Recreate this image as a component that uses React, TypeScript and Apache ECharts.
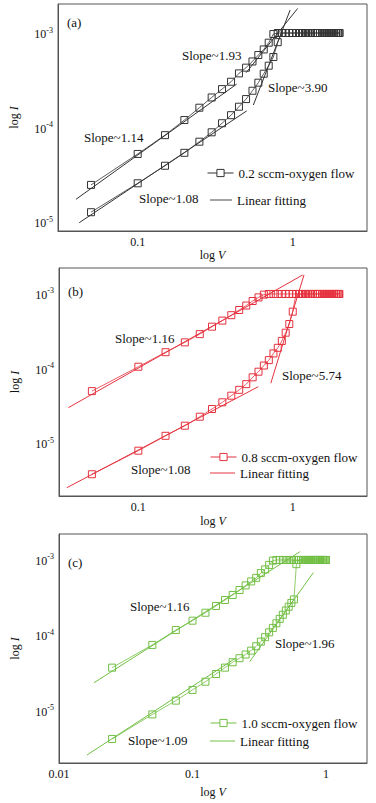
import React, { useEffect, useRef } from "react";
import * as echarts from "echarts";

// ---------- Panel (a): 0.2 sccm ----------
const aLowV = [0.05, 0.1, 0.15, 0.2, 0.25, 0.3, 0.35, 0.4, 0.45, 0.5, 0.55, 0.6, 0.65, 0.7, 0.75, 0.8];
const aLowI = [1.27e-5, 2.57e-5, 3.94e-5, 5.4e-5, 7.08e-5, 8.9e-5, 1.11e-4, 1.35e-4, 1.66e-4, 2.0e-4, 2.45e-4, 2.98e-4, 3.71e-4, 4.51e-4, 5.57e-4, 8.0e-4];
const aPlatV = [0.8, 0.85, 0.9, 0.95, 1.0, 1.05, 1.1, 1.15, 1.2, 1.25, 1.3, 1.35, 1.4, 1.45, 1.5, 1.55, 1.6, 1.65, 1.7, 1.75, 1.8, 1.85, 1.9, 1.95, 2.0];
const aPlatI = [1e-3, 1e-3, 1e-3, 1e-3, 1e-3, 1e-3, 1e-3, 1e-3, 1e-3, 1e-3, 1e-3, 1e-3, 1e-3, 1e-3, 1e-3, 1e-3, 1e-3, 1e-3, 1e-3, 1e-3, 1e-3, 1e-3, 1e-3, 1e-3, 1e-3];
const aUpV = [0.75, 0.7, 0.65, 0.6, 0.55, 0.5, 0.45, 0.4, 0.35, 0.3, 0.25, 0.2, 0.15, 0.1, 0.05];
const aUpI = [9.75e-4, 7.9e-4, 6.7e-4, 5.85e-4, 5.0e-4, 4.3e-4, 3.74e-4, 3.05e-4, 2.55e-4, 2.08e-4, 1.62e-4, 1.2e-4, 8.3e-5, 5.25e-5, 2.47e-5];
const aFits = [
  [[0.04, 1.74e-5], [0.435, 2.88e-4]],
  [[0.5, 3.8e-4], [1.076, 1.82e-3]],
  [[0.042, 9.84e-6], [0.505, 1.5e-4]],
  [[0.557, 1.73e-4], [0.962, 1.75e-3]],
];

// ---------- Panel (b): 0.8 sccm ----------
const bLowV = [0.05, 0.1, 0.15, 0.2, 0.25, 0.3, 0.35, 0.4, 0.45, 0.5, 0.55, 0.6, 0.65, 0.7, 0.75, 0.8, 0.85, 0.9, 0.95, 1.0];
const bLowI = [3.85e-6, 7.96e-6, 1.26e-5, 1.72e-5, 2.27e-5, 2.88e-5, 3.54e-5, 4.34e-5, 5.2e-5, 6.2e-5, 7.65e-5, 9.1e-5, 1.1e-4, 1.3e-4, 1.6e-4, 1.9e-4, 2.35e-4, 3.03e-4, 3.96e-4, 5.8e-4];
const bPlatV = [0.7, 0.75, 0.8, 0.85, 0.9, 0.95, 1.0, 1.05, 1.1, 1.15, 1.2, 1.25, 1.3, 1.35, 1.4, 1.45, 1.5, 1.55, 1.6, 1.65, 1.7, 1.75, 1.8, 1.85, 1.9, 1.95, 2.0];
const bPlatI = [1e-3, 1e-3, 1e-3, 1e-3, 1e-3, 1e-3, 1e-3, 1e-3, 1e-3, 1e-3, 1e-3, 1e-3, 1e-3, 1e-3, 1e-3, 1e-3, 1e-3, 1e-3, 1e-3, 1e-3, 1e-3, 1e-3, 1e-3, 1e-3, 1e-3, 1e-3, 1e-3];
const bUpV = [0.65, 0.6, 0.55, 0.5, 0.45, 0.4, 0.35, 0.3, 0.25, 0.2, 0.15, 0.1, 0.05];
const bUpI = [9.8e-4, 9.0e-4, 8.05e-4, 7.0e-4, 6.1e-4, 5.2e-4, 4.4e-4, 3.65e-4, 2.9e-4, 2.25e-4, 1.66e-4, 1.06e-4, 5.0e-5];
const bFits = [
  [[0.0352, 3.0e-5], [1.161, 1.8e-3]],
  [[0.0344, 2.54e-6], [0.598, 5.73e-5]],
  [[0.721, 6.37e-5], [1.183, 1.8e-3]],
];

// ---------- Panel (c): 1.0 sccm ----------
const cLowV = [0.025, 0.05, 0.075, 0.1, 0.125, 0.15, 0.175, 0.2, 0.225, 0.25, 0.275, 0.3, 0.325, 0.35, 0.375, 0.4, 0.425, 0.45, 0.475, 0.5, 0.525, 0.55, 0.575, 0.6];
const cLowI = [4.26e-6, 9.0e-6, 1.37e-5, 1.9e-5, 2.44e-5, 3.09e-5, 3.75e-5, 4.42e-5, 5.0e-5, 5.6e-5, 6.3e-5, 7.2e-5, 8.3e-5, 9.5e-5, 1.1e-4, 1.26e-4, 1.45e-4, 1.66e-4, 1.88e-4, 2.14e-4, 2.4e-4, 2.7e-4, 3.0e-4, 8.8e-4];
const cPlatV = [0.425, 0.45, 0.475, 0.5, 0.525, 0.55, 0.575, 0.6, 0.625, 0.65, 0.675, 0.7, 0.725, 0.75, 0.775, 0.8, 0.825, 0.85, 0.875, 0.9, 0.925, 0.95, 0.975, 1.0];
const cPlatI = [1e-3, 1e-3, 1e-3, 1e-3, 1e-3, 1e-3, 1e-3, 1e-3, 1e-3, 1e-3, 1e-3, 1e-3, 1e-3, 1e-3, 1e-3, 1e-3, 1e-3, 1e-3, 1e-3, 1e-3, 1e-3, 1e-3, 1e-3, 1e-3];
const cUpV = [0.4, 0.375, 0.35, 0.325, 0.3, 0.275, 0.25, 0.225, 0.2, 0.175, 0.15, 0.125, 0.1, 0.075, 0.05, 0.025];
const cUpI = [9.8e-4, 8.6e-4, 7.5e-4, 6.7e-4, 5.8e-4, 5.2e-4, 4.6e-4, 4.0e-4, 3.44e-4, 2.95e-4, 2.46e-4, 2.0e-4, 1.57e-4, 1.18e-4, 7.5e-5, 3.75e-5];
const cFits = [
  [[0.0183, 2.37e-5], [0.64, 1.29e-3]],
  [[0.0162, 2.61e-6], [0.21, 4.99e-5]],
  [[0.268, 4.5e-5], [0.804, 6.8e-4]],
];

const names = ["0.2 sccm-oxygen flow", "0.8 sccm-oxygen flow", "1.0 sccm-oxygen flow"];
const fitNames = ["Linear fitting (a)", "Linear fitting (b)", "Linear fitting (c)"];
const colors = ["#333333", "#e5323e", "#72bf44"];

const FONT = '"Liberation Serif", "Times New Roman", serif';
const L = (v: number) => Math.log10(v);

function buildLoop(lowV: number[], lowI: number[], platV: number[], platI: number[], upV: number[], upI: number[]) {
  const pts: number[][] = [];
  lowV.forEach((v, k) => pts.push([L(v), L(lowI[k])]));
  const last = lowV[lowV.length - 1];
  platV.forEach((v, k) => { if (v > last) pts.push([L(v), L(platI[k])]); });
  for (let k = platV.length - 1; k >= 0; k--) pts.push([L(platV[k]), L(platI[k])]);
  upV.forEach((v, k) => pts.push([L(v), L(upI[k])]));
  return pts;
}

const xFmt = (v: number) => {
  const r = Math.round(v);
  if (Math.abs(v - r) > 1e-6) return "";
  if (r === 0) return "1";
  if (r === -1) return "0.1";
  if (r === -2) return "0.01";
  return String(Math.pow(10, r));
};
const yFmt = (v: number) => {
  const r = Math.round(v);
  if (Math.abs(v - r) > 1e-6) return "";
  return `{b|10}{s|${r}}`;
};

export default function App() {
  const ref = useRef<HTMLDivElement>(null);
  useEffect(() => {
    if (!ref.current) return;
    const chart = echarts.init(ref.current, null, { renderer: "svg" });

    const grids = [
      { left: 58, top: 4, width: 309, height: 227 },
      { left: 59, top: 268, width: 308, height: 228 },
      { left: 59, top: 534, width: 308, height: 229 },
    ];
    const xr = [[-1.514, 0.479], [-1.514, 0.481], [-2, 0.307]];
    const yr = [[-5.095, -2.693], [-5.706, -2.652], [-5.689, -2.656]];
    const xNameGap = [17, 19, 23];

    const loops = [
      buildLoop(aLowV, aLowI, aPlatV, aPlatI, aUpV, aUpI),
      buildLoop(bLowV, bLowI, bPlatV, bPlatI, bUpV, bUpI),
      buildLoop(cLowV, cLowI, cPlatV, cPlatI, cUpV, cUpI),
    ];
    const fits = [aFits, bFits, cFits];

    const series: any[] = [];
    loops.forEach((data, p) => {
      series.push({
        type: "line",
        name: names[p],
        xAxisIndex: p,
        yAxisIndex: p,
        data,
        symbol: "rect",
        symbolSize: 7,
        showAllSymbol: true,
        lineStyle: { color: colors[p], width: 0.8 },
        itemStyle: { color: "transparent", borderColor: colors[p], borderWidth: 1 },
        z: 3,
      });
      fits[p].forEach((seg) => {
        series.push({
          type: "line",
          name: fitNames[p],
          xAxisIndex: p,
          yAxisIndex: p,
          data: seg.map(([v, i]) => [L(v), L(i)]),
          symbol: "none",
          lineStyle: { color: colors[p], width: 1 },
          itemStyle: { color: colors[p] },
          z: 2,
        });
      });
    });

    const textStyle = { fontFamily: FONT, fontSize: 13, color: "#111", lineHeight: 14 };
    const legendPos = [
      [207, 173, 26, 210, 200, 22],
      [210, 457, 26, 210, 473, 25],
      [210, 723, 26, 210, 741, 25],
    ];
    const legends: any[] = [];
    legendPos.forEach((lp, p) => {
      legends.push({
        data: [names[p]], left: lp[0], top: lp[1] - 7, itemWidth: lp[2], itemHeight: 9,
        padding: 0, selectedMode: false, textStyle, itemGap: 0,
        lineStyle: { width: 1 },
        itemStyle: { borderWidth: 1, color: "#fff" },
      });
      legends.push({
        data: [{ name: fitNames[p], icon: "path://M0,0L100,0L100,4L0,4Z" }],
        left: lp[3], top: lp[4] - 7, itemWidth: lp[5], itemHeight: 9,
        padding: 0, selectedMode: false, textStyle, itemGap: 0,
        formatter: (n: string) => n.replace(/ \([abc]\)$/, ""),
      });
    });

    const labels = [
      [67, 22, "(a)"], [182, 55, "Slope~1.93"], [268, 87, "Slope~3.90"], [84, 137, "Slope~1.14"], [139, 198, "Slope~1.08"],
      [68, 291, "(b)"], [115, 338, "Slope~1.16"], [282, 375, "Slope~5.74"], [131, 469, "Slope~1.08"],
      [68, 562, "(c)"], [130, 606, "Slope~1.16"], [275, 643, "Slope~1.96"], [128, 740, "Slope~1.09"],
    ];

    const option: any = {
      animation: false,
      backgroundColor: "#fff",
      grid: grids.map((g) => ({ ...g, show: true, borderColor: "#555", borderWidth: 1, backgroundColor: "transparent" })),
      xAxis: grids.map((_, p) => ({
        gridIndex: p,
        type: "value",
        min: xr[p][0],
        max: xr[p][1],
        splitNumber: 2,
        axisLine: { show: true, onZero: false, lineStyle: { color: "#555", width: 1 } },
        axisTick: { show: false },
        splitLine: { show: false },
        axisLabel: { formatter: xFmt, margin: 5, fontFamily: FONT, fontSize: 12, color: "#111" },
        name: "{n|log }{i|V}",
        nameLocation: "middle",
        nameGap: xNameGap[p],
        nameTextStyle: {
          rich: {
            n: { fontFamily: FONT, fontSize: 12, color: "#111" },
            i: { fontFamily: FONT, fontSize: 12, fontStyle: "italic", color: "#111" },
          },
        },
      })),
      yAxis: grids.map((_, p) => ({
        gridIndex: p,
        type: "value",
        min: yr[p][0],
        max: yr[p][1],
        splitNumber: 3,
        axisLine: { show: true, onZero: false, lineStyle: { color: "#555", width: 1 } },
        axisTick: { show: false },
        splitLine: { show: false },
        axisLabel: {
          formatter: yFmt,
          margin: 5,
          color: "#111",
          rich: {
            b: { fontFamily: FONT, fontSize: 12, lineHeight: 14, verticalAlign: "bottom", color: "#111" },
            s: { fontFamily: FONT, fontSize: 8, lineHeight: 8, verticalAlign: "top", color: "#111" },
          },
        },
        name: "{n|log }{i|I}",
        nameLocation: "middle",
        nameRotate: 90,
        nameGap: 38,
        nameTextStyle: {
          rich: {
            n: { fontFamily: FONT, fontSize: 12, color: "#111" },
            i: { fontFamily: FONT, fontSize: 12, fontStyle: "italic", color: "#111" },
          },
        },
      })),
      legend: legends,
      graphic: labels.map(([x, y, t]) => ({
        type: "text",
        x: x as number,
        y: y as number,
        style: { text: t as string, fontFamily: FONT, fontSize: 13, fill: "#111", verticalAlign: "middle", align: "left" },
        z: 10,
      })),
      series,
    };
    chart.setOption(option);
    return () => chart.dispose();
  }, []);
  return <div ref={ref} style={{ position: "fixed", left: 0, top: 0, width: 376, height: 803 }} />;
}
